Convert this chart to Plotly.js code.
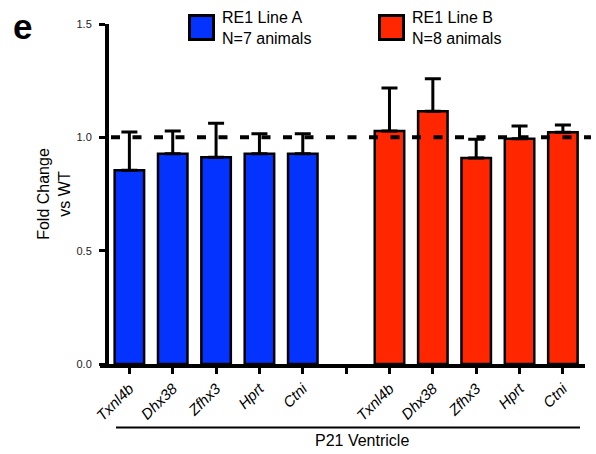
<!DOCTYPE html>
<html>
<head>
<meta charset="utf-8">
<script src="https://cdn.plot.ly/plotly-3.0.1.min.js"></script>
<style>html,body{margin:0;padding:0;background:#fff;}#chart{width:596px;height:454px;}</style>
</head>
<body>
<div id="chart"></div>
<script>
// ---- data ----
const genes = ['Txnl4b', 'Dhx38', 'Zfhx3', 'Hprt', 'Ctni'];
const lineAName = 'RE1 Line A';
const lineANote = 'N=7 animals';
const lineAMean = [0.855, 0.928, 0.912, 0.928, 0.928];
const lineASem  = [0.168, 0.100, 0.150, 0.088, 0.088];
const lineBName = 'RE1 Line B';
const lineBNote = 'N=8 animals';
const lineBMean = [1.028, 1.115, 0.909, 0.994, 1.022];
const lineBSem  = [0.190, 0.144, 0.082, 0.056, 0.032];
const yTicks = [0, 0.5, 1.0, 1.5];
const referenceLevel = 1.0;
const groupLabel = 'P21 Ventricle';
const yTitle = 'Fold Change<br>vs WT';
const panelLetter = 'e';

// ---- layout helpers ----
const FONT = 'Liberation Sans, Arial, Helvetica, sans-serif';
const BLUE = '#0433FF';
const RED = '#FF2600';
const gap = 1; // empty slot between the two groups
const xA = genes.map((g, i) => i);
const xB = genes.map((g, i) => i + genes.length + gap);
const tickvals = [...xA, genes.length, ...xB];
const ticktext = [...genes.map(g => '<i>' + g + '</i>'), '', ...genes.map(g => '<i>' + g + '</i>')];

function barTrace(x, y, err, color, name) {
  return {
    type: 'bar', x: x, y: y, name: name, width: 0.68,
    marker: {color: color, line: {color: '#000', width: 2.5}},
    error_y: {type: 'data', array: err, arrayminus: err.map(() => 0), symmetric: false,
              color: '#000', thickness: 3, width: 8},
    showlegend: false, hoverinfo: 'skip'
  };
}

const data = [
  barTrace(xA, lineAMean, lineASem, BLUE, lineAName),
  barTrace(xB, lineBMean, lineBSem, RED, lineBName)
];

const L = 109, R = 11, T = 24, B = 90;
const W = 596 - L - R, H = 454 - T - B;
const px = x => (x - L) / W;          // pixel -> paper x
const py = y => (454 - B - y) / H;     // pixel -> paper y

const layout = {
  width: 596, height: 454,
  margin: {l: L, r: R, t: T, b: B, pad: 0},
  paper_bgcolor: '#fff', plot_bgcolor: '#fff',
  font: {family: FONT, color: '#000'},
  barmode: 'overlay',
  title: {text: '<b>' + panelLetter + '</b>', font: {family: FONT, size: 35, color: '#000'},
          xref: 'container', yref: 'container', x: 13 / 596, xanchor: 'left', y: 1 - 39 / 454, yanchor: 'bottom'},
  xaxis: {
    range: [-0.47, 10.51], showgrid: false, zeroline: false,
    showline: true, linewidth: 4, linecolor: '#000',
    ticks: 'outside', ticklen: 6, tickwidth: 3, tickcolor: '#000',
    tickmode: 'array', tickvals: tickvals, ticktext: ticktext,
    tickangle: -45, tickfont: {family: FONT, size: 15, color: '#000'}
  },
  yaxis: {
    range: [0, 1.5], showgrid: false, zeroline: false,
    showline: true, linewidth: 4, linecolor: '#000',
    ticks: 'outside', ticklen: 6, tickwidth: 3, tickcolor: '#000',
    tickmode: 'array', tickvals: yTicks, ticktext: yTicks.map(v => v.toFixed(1)),
    tickfont: {family: FONT, size: 11, color: '#222'}, ticklabelstandoff: 5,
    title: {text: yTitle, font: {family: FONT, size: 16, color: '#000'}, standoff: 3}
  },
  shapes: [
    {type: 'line', xref: 'paper', yref: 'y', x0: px(111), x1: px(591), y0: referenceLevel, y1: referenceLevel,
     line: {color: '#000', width: 4, dash: '9px,12.5px'}, layer: 'above'},
    {type: 'line', xref: 'paper', yref: 'paper', x0: px(100), x1: px(110), y0: py(366), y1: py(366),
     line: {color: '#000', width: 4}, layer: 'above'},
    {type: 'line', xref: 'paper', yref: 'paper', x0: px(116), x1: px(580), y0: py(427.5), y1: py(427.5),
     line: {color: '#000', width: 2}},
    {type: 'rect', xref: 'paper', yref: 'paper', x0: px(189.5), x1: px(213.5), y0: py(15.5), y1: py(39.5),
     fillcolor: BLUE, line: {color: '#000', width: 3}},
    {type: 'rect', xref: 'paper', yref: 'paper', x0: px(379.5), x1: px(403.5), y0: py(15.5), y1: py(39.5),
     fillcolor: RED, line: {color: '#000', width: 3}}
  ],
  annotations: [
    {xref: 'paper', yref: 'paper', x: px(220), y: py(28), xanchor: 'left', yanchor: 'middle', align: 'left',
     text: lineAName + '<br>' + lineANote, showarrow: false, font: {family: FONT, size: 16, color: '#000'}},
    {xref: 'paper', yref: 'paper', x: px(410), y: py(28), xanchor: 'left', yanchor: 'middle', align: 'left',
     text: lineBName + '<br>' + lineBNote, showarrow: false, font: {family: FONT, size: 16, color: '#000'}},
    {xref: 'paper', yref: 'paper', x: px(361.7), y: py(440), xanchor: 'center', yanchor: 'middle',
     text: groupLabel, showarrow: false, font: {family: FONT, size: 16, color: '#000'}}
  ]
};

Plotly.newPlot('chart', data, layout, {displayModeBar: false, staticPlot: true});
</script>
</body>
</html>
